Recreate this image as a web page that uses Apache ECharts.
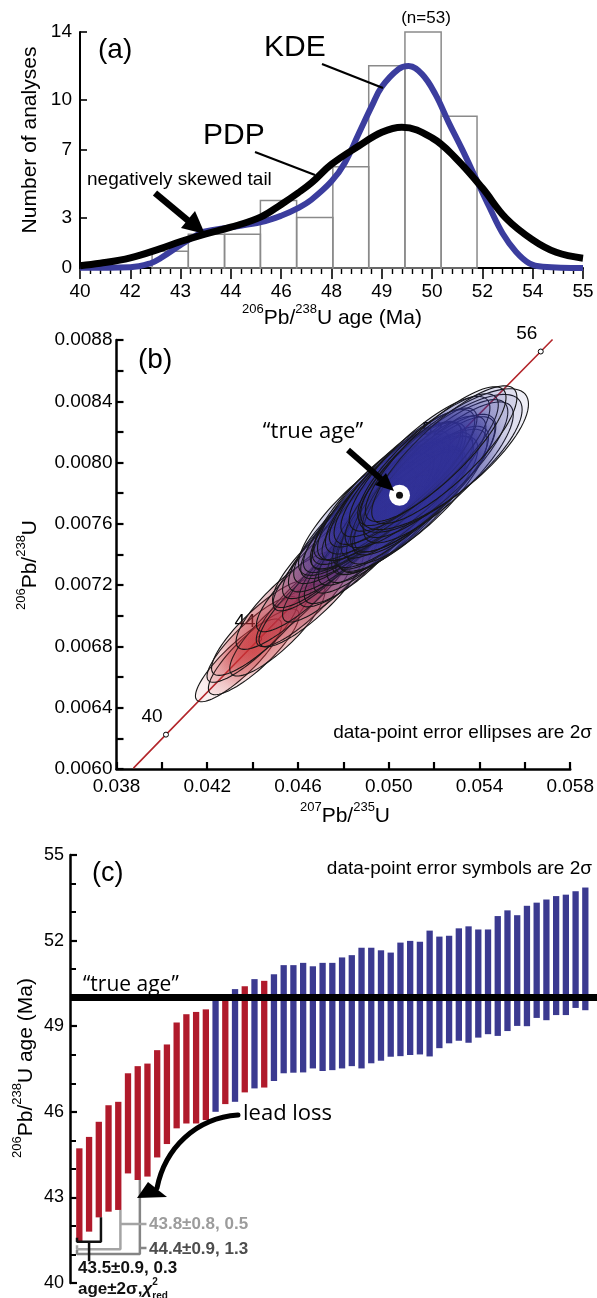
<!DOCTYPE html>
<html>
<head>
<meta charset="utf-8">
<script src="https://cdn.jsdelivr.net/npm/echarts@6/dist/echarts.min.js"></script>
<style>
html,body{margin:0;padding:0;background:#fff}
#chart{width:597px;height:1298px}
</style>
</head>
<body>
<div id="chart"></div>
<script>
// ---------- (a) age histogram with KDE and PDP ----------
const binEdges  = [42.15, 43.23, 44.31, 45.38, 46.46, 47.54, 48.61, 49.69, 50.77, 51.84];
const binCounts = [1, 2, 2, 4, 3, 6, 12, 14, 9];
const kdeAge = [40.0, 41.5, 42.1, 42.4, 43.0, 43.4, 43.7, 44.5, 45.4, 46.0, 46.5, 46.9, 47.5, 47.9, 48.3, 48.7, 49.0, 49.5, 49.8, 50.2, 50.6, 51.0, 51.4, 51.8, 52.2, 52.6, 53.0, 53.4, 53.8, 55.0];
const kdeVal = [0.02, 0.05, 0.28, 0.58, 1.37, 1.86, 2.16, 2.42, 2.72, 3.10, 3.55, 4.05, 5.14, 6.25, 7.92, 9.60, 10.75, 11.80, 11.98, 11.50, 10.30, 8.61, 7.02, 5.34, 3.65, 2.06, 0.97, 0.28, 0.08, 0.0];
const pdpAge = [40.0, 40.6, 41.5, 42.4, 43.0, 43.7, 44.5, 45.4, 46.0, 46.5, 46.9, 47.5, 48.3, 49.0, 49.6, 50.5, 51.2, 52.0, 52.7, 53.5, 54.2, 55.0];
const pdpVal = [0.14, 0.28, 0.60, 1.15, 1.57, 2.00, 2.42, 3.03, 3.77, 4.45, 5.05, 6.15, 7.22, 8.05, 8.35, 7.72, 6.53, 4.74, 2.96, 1.67, 0.93, 0.58];
const ageTickLabels = ['40', '42', '43', '44', '46', '48', '49', '50', '52', '54', '55'];
const countTicks = [0, 3, 7, 10, 14];

// ---------- (b) concordia diagram ----------
const concAge = [38.6, 40, 44, 48, 52, 56, 56.45];
const concX = [0.038747, 0.040180, 0.044286, 0.048408, 0.052546, 0.056701, 0.057221];
const concY = [0.0060058, 0.0062243, 0.0068488, 0.0074738, 0.0080991, 0.0087248, 0.0088031];
const concMarkedAges = [40, 44, 48, 52, 56];
const trueAgeRatio = [0.050475, 0.0077864];
const ratioXLabels = ['0.038', '0.042', '0.046', '0.050', '0.054', '0.058'];
const ratioYLabels = ['0.0060', '0.0064', '0.0068', '0.0072', '0.0076', '0.0080', '0.0084', '0.0088'];
// error ellipse centres (207Pb/235U, 206Pb/238U), 2-sigma half widths and error correlations
const ellX = [0.04338, 0.04405, 0.04399, 0.04509, 0.04439, 0.04626, 0.04557, 0.04658, 0.04637, 0.04742,
  0.04720, 0.04844, 0.04738, 0.04868, 0.04792, 0.04920, 0.04818, 0.04950, 0.04851, 0.04988,
  0.04882, 0.05043, 0.04904, 0.05038, 0.04929, 0.05061, 0.04902, 0.05046, 0.04944, 0.05083,
  0.04953, 0.05063, 0.04986, 0.05124, 0.04970, 0.05080, 0.05006, 0.05140, 0.05031, 0.05158,
  0.05028, 0.05152, 0.05118, 0.05069, 0.05219, 0.05089, 0.05205, 0.05136, 0.05228, 0.05173,
  0.05246, 0.05245, 0.05207];
const ellY = [0.006709, 0.006765, 0.006846, 0.006907, 0.006921, 0.007099, 0.007101, 0.007117, 0.007206, 0.007259,
  0.007362, 0.007398, 0.007404, 0.007420, 0.007472, 0.007498, 0.007526, 0.007559, 0.007590, 0.007587,
  0.007623, 0.007670, 0.007672, 0.007678, 0.007679, 0.007683, 0.007684, 0.007704, 0.007717, 0.007731,
  0.007745, 0.007745, 0.007750, 0.007778, 0.007786, 0.007786, 0.007811, 0.007817, 0.007833, 0.007859,
  0.007859, 0.007865, 0.007875, 0.007906, 0.007936, 0.007936, 0.007961, 0.007992, 0.007995, 0.008019,
  0.008022, 0.008051, 0.008055];
const ellSx = [0.0019, 0.0020, 0.0020, 0.0021, 0.0022, 0.0021, 0.0023, 0.0023, 0.0022, 0.0021,
  0.0023, 0.0024, 0.0025, 0.0024, 0.0026, 0.0025, 0.0026, 0.0026, 0.0027, 0.0026,
  0.0027, 0.0028, 0.0028, 0.0029, 0.0027, 0.0028, 0.0030, 0.0028, 0.0029, 0.0031,
  0.0029, 0.0031, 0.0028, 0.0031, 0.0030, 0.0029, 0.0032, 0.0030, 0.0031, 0.0031,
  0.0029, 0.0032, 0.0031, 0.0031, 0.0033, 0.0030, 0.0032, 0.0031, 0.0036, 0.0031,
  0.0037, 0.0032, 0.0031];
const ellSy = [0.00027, 0.00028, 0.00028, 0.00030, 0.00031, 0.00030, 0.00032, 0.00032, 0.00031, 0.00030,
  0.00033, 0.00034, 0.00035, 0.00034, 0.00036, 0.00035, 0.00037, 0.00036, 0.00038, 0.00037,
  0.00038, 0.00040, 0.00039, 0.00041, 0.00038, 0.00040, 0.00042, 0.00040, 0.00041, 0.00044,
  0.00041, 0.00043, 0.00039, 0.00044, 0.00042, 0.00041, 0.00045, 0.00042, 0.00043, 0.00044,
  0.00041, 0.00045, 0.00043, 0.00044, 0.00046, 0.00042, 0.00045, 0.00044, 0.00045, 0.00043,
  0.00046, 0.00045, 0.00044];
const ellRho = [0.86, 0.85, 0.86, 0.84, 0.85, 0.85, 0.84, 0.86, 0.85, 0.84,
  0.85, 0.84, 0.85, 0.84, 0.84, 0.85, 0.83, 0.84, 0.83, 0.84,
  0.83, 0.83, 0.84, 0.82, 0.83, 0.83, 0.82, 0.83, 0.83, 0.82,
  0.83, 0.82, 0.84, 0.82, 0.83, 0.83, 0.82, 0.83, 0.82, 0.83,
  0.84, 0.82, 0.83, 0.83, 0.82, 0.84, 0.82, 0.83, 0.78, 0.83,
  0.78, 0.83, 0.84];

// ---------- (c) ranked ages with 2-sigma bars ----------
const ageLow  = [41.47, 41.80, 42.30, 42.50, 42.56, 43.84, 43.61, 43.73, 44.40, 44.87,
  45.42, 45.59, 45.59, 45.71, 46.00, 46.27, 46.35, 46.68, 46.82, 46.85,
  47.08, 47.35, 47.37, 47.38, 47.52, 47.43, 47.46, 47.52, 47.60, 47.52,
  47.70, 47.79, 47.93, 47.95, 47.99, 48.01, 47.94, 48.23, 48.40, 48.49,
  48.42, 48.60, 48.72, 48.66, 48.83, 49.01, 49.00, 49.29, 49.21, 49.39,
  49.39, 49.64, 49.56];
const ageHigh = [44.72, 45.12, 45.65, 46.23, 46.35, 47.35, 47.60, 47.69, 48.16, 48.36,
  49.13, 49.42, 49.50, 49.59, 50.00, 50.05, 50.30, 50.40, 50.65, 50.59,
  50.82, 51.14, 51.14, 51.22, 51.10, 51.22, 51.22, 51.41, 51.49, 51.75,
  51.75, 51.66, 51.58, 51.93, 51.99, 51.96, 52.35, 52.14, 52.17, 52.43,
  52.50, 52.39, 52.39, 52.86, 53.06, 52.89, 53.22, 53.33, 53.44, 53.56,
  53.61, 53.73, 53.86];
const leadLoss = [1, 1, 1, 1, 1, 1, 1, 1, 1, 1, 1, 1, 1, 1, 0, 1, 0, 1, 0, 1,
  0, 0, 0, 0, 0, 0, 0, 0, 0, 0, 0, 0, 0, 0, 0, 0, 0, 0, 0, 0,
  0, 0, 0, 0, 0, 0, 0, 0, 0, 0, 0, 0, 0];
const trueAge = 50;
const meanGroups = [
  { last: 2, text: '43.5±0.9, 0.3' },
  { last: 4, text: '43.8±0.8, 0.5' },
  { last: 6, text: '44.4±0.9, 1.3' }
];

// ---------- drawing ----------
const FONT = '"Liberation Sans", Arial, Helvetica, sans-serif';
const HUM = '"Open Sans", "Liberation Sans", sans-serif';
const RED = '#b01a2b', BLUE = '#3b3a90', KDE_BLUE = '#3b3d9e';
const groupColors = ['#111111', '#a4a4a4', '#858585'];
const groupTextColors = ['#111111', '#9c9c9c', '#4d4d4d'];

const chart = echarts.init(document.getElementById('chart'), null, { renderer: 'canvas' });

function axisLineStyle(w) { return { show: true, onZero: false, lineStyle: { color: '#000', width: w } }; }
const labelBase = { color: '#000', fontFamily: FONT, fontSize: 19 };

function rgba(c, a) { return 'rgba(' + c[0] + ',' + c[1] + ',' + c[2] + ',' + a + ')'; }
function ellColor(y) {
  let t = (y - 0.00700) / (0.00765 - 0.00700);
  t = Math.max(0, Math.min(1, t));
  const r = [200, 48, 52], b = [48, 48, 150];
  return [0, 1, 2].map(i => Math.round(r[i] + (b[i] - r[i]) * t));
}

function renderHist(params, api) {
  const p0 = api.coord([api.value(0), api.value(2)]);
  const p1 = api.coord([api.value(1), 0]);
  return { type: 'rect', shape: { x: p0[0], y: p0[1], width: p1[0] - p0[0], height: p1[1] - p0[1] },
    style: { fill: 'rgba(255,255,255,0)', stroke: '#8a8a8a', lineWidth: 1.5 } };
}

function renderEllipse(params, api) {
  const cx = api.value(0), cy = api.value(1), sx = api.value(2), sy = api.value(3), r = api.value(4);
  const k = Math.sqrt(1 - r * r);
  const pts = [];
  for (let j = 0; j < 90; j++) {
    const t = j / 90 * 2 * Math.PI;
    pts.push(api.coord([cx + sx * Math.cos(t), cy + sy * (r * Math.cos(t) + k * Math.sin(t))]));
  }
  const c = ellColor(cy);
  return { type: 'polygon', shape: { points: pts },
    style: { fill: new echarts.graphic.RadialGradient(0.5, 0.5, 0.5, [
      { offset: 0, color: rgba(c, 0.45) }, { offset: 1, color: rgba(c, 0.08) }]),
      stroke: '#161616', lineWidth: 1.1 } };
}

function renderBar(params, api) {
  const i = api.value(0);
  const top = api.coord([i, api.value(2)]);
  const bot = api.coord([i, api.value(1)]);
  const w = 6.3;
  return { type: 'rect', shape: { x: top[0] - w / 2, y: top[1], width: w, height: bot[1] - top[1] },
    style: { fill: api.value(3) ? RED : BLUE } };
}

const concMarkData = concMarkedAges.map(a => {
  const i = concAge.indexOf(a);
  return { value: [concX[i], concY[i]], name: String(a) };
});

// bracket outlines for the weighted means of the youngest analyses
const bracketBase = [41.45, 41.18, 41.02];
const bracketSeries = meanGroups.map((g, k) => ({
  type: 'line', xAxisIndex: 2, yAxisIndex: 2, symbol: 'none', z: 6, silent: true,
  lineStyle: { color: groupColors[k], width: 2.5 },
  data: [[-0.24, bracketBase[k] + 0.14], [-0.24, bracketBase[k]], [g.last + 0.22, bracketBase[k]], [g.last + 0.22, ageLow[g.last]]]
}));
const connectorSeries = [
  { data: [[1.0, bracketBase[0]], [1.0, 40.76]], color: groupColors[0] },
  { data: [[meanGroups[1].last + 0.22, 42.07], [6.9, 42.07]], color: groupColors[1] },
  { data: [[meanGroups[2].last + 0.22, 41.23], [6.9, 41.23]], color: groupColors[2] }
].map(s => ({ type: 'line', xAxisIndex: 2, yAxisIndex: 2, symbol: 'none', z: 6, silent: true,
  lineStyle: { color: s.color, width: 2.5 }, data: s.data }));

function txt(x, y, text, font, opts) {
  opts = opts || {};
  return { type: 'text', x: x, y: y, rotation: opts.rotation || 0, z: 100, silent: true,
    style: { text: text, font: font, fill: opts.fill || '#000',
      align: opts.align || 'left', verticalAlign: 'middle',
      textAlign: opts.align || 'left', textVerticalAlign: 'middle', rich: opts.rich } };
}
function supRich(size, supSize, weight) {
  return {
    n: { fontSize: size, fontFamily: FONT, fontWeight: weight || 'normal', lineHeight: Math.round(size * 1.45), fill: '#000', verticalAlign: 'middle' },
    s: { fontSize: supSize, fontFamily: FONT, fontWeight: weight || 'normal', lineHeight: supSize + 1, fill: '#000', verticalAlign: 'top' }
  };
}

const graphics = [
  // panel (a)
  txt(98, 50, '(a)', '28px ' + FONT),
  txt(264, 48, 'KDE', '30px ' + FONT),
  txt(203, 136, 'PDP', '30px ' + FONT),
  txt(426, 18, '(n=53)', '17px ' + FONT, { align: 'center' }),
  txt(87, 180, 'negatively skewed tail', '19px ' + FONT),
  { type: 'line', z: 100, shape: { x1: 322, y1: 64, x2: 383, y2: 88 }, style: { stroke: '#000', lineWidth: 2.2 } },
  { type: 'line', z: 100, shape: { x1: 255, y1: 152, x2: 315, y2: 175 }, style: { stroke: '#000', lineWidth: 2.2 } },
  { type: 'line', z: 100, shape: { x1: 155, y1: 193, x2: 191, y2: 223 }, style: { stroke: '#000', lineWidth: 6.5 } },
  { type: 'polygon', z: 100, shape: { points: [[205, 234], [181, 228], [195, 211]] }, style: { fill: '#000' } },
  txt(30, 140, 'Number of analyses', '21px ' + FONT, { align: 'center', rotation: Math.PI / 2 }),
  txt(332, 318, '{s|206}{n|Pb/}{s|238}{n|U age (Ma)}', '21px ' + FONT, { align: 'center', rich: supRich(21, 13) }),
  // panel (b)
  txt(138, 360, '(b)', '28px ' + FONT),
  txt(592, 733, 'data-point error ellipses are 2σ', '19px ' + FONT, { align: 'right' }),
  txt(313, 432, '“true age”', '22px ' + HUM, { align: 'center' }),
  { type: 'line', z: 100, shape: { x1: 348, y1: 450, x2: 381, y2: 479 }, style: { stroke: '#000', lineWidth: 6 } },
  { type: 'polygon', z: 100, shape: { points: [[394, 491], [375, 485], [386, 473]] }, style: { fill: '#000' } },
  txt(30, 565, '{s|206}{n|Pb/}{s|238}{n|U}', '21px ' + FONT, { align: 'center', rotation: Math.PI / 2, rich: supRich(21, 13) }),
  txt(345, 816, '{s|207}{n|Pb/}{s|235}{n|U}', '21px ' + FONT, { align: 'center', rich: supRich(21, 13) }),
  // panel (c)
  txt(92, 874, '(c)', '27px ' + FONT),
  txt(592, 869, 'data-point error symbols are 2σ', '19px ' + FONT, { align: 'right' }),
  txt(83, 985, '“true age”', '21px ' + HUM),
  txt(243, 1114, 'lead loss', '22px ' + HUM),
  txt(26, 1068, '{s|206}{n|Pb/}{s|238}{n|U age (Ma)}', '21px ' + FONT, { align: 'center', rotation: Math.PI / 2, rich: supRich(21, 13) }),
  { type: 'bezierCurve', z: 100, shape: { x1: 238, y1: 1115, cpx1: 196, cpy1: 1118, cpx2: 165, cpy2: 1148, x2: 157, y2: 1188 },
    style: { stroke: '#000', lineWidth: 5, fill: null, lineCap: 'round' } },
  { type: 'polygon', z: 100, shape: { points: [[137, 1198], [148, 1182], [167, 1197]] }, style: { fill: '#000' } },
  txt(149, 1224, meanGroups[1].text, 'bold 17px ' + FONT, { fill: groupTextColors[1] }),
  txt(149, 1249, meanGroups[2].text, 'bold 17px ' + FONT, { fill: groupTextColors[2] }),
  txt(78, 1268, meanGroups[0].text, 'bold 17px ' + FONT, { fill: groupTextColors[0] }),
  txt(78, 1289, '{m|age±2σ,}{c|χ}{s|2}', 'bold 17px ' + FONT, { rich: {
    m: { fontSize: 17, fontWeight: 'bold', fontFamily: FONT, lineHeight: 24, fill: '#111' },
    c: { fontSize: 17, fontWeight: 'bold', fontStyle: 'italic', fontFamily: FONT, lineHeight: 24, fill: '#111' },
    s: { fontSize: 10, fontWeight: 'bold', fontFamily: FONT, lineHeight: 11, verticalAlign: 'top', fill: '#111' } } }),
  txt(78, 1289, '{m|age±2σ,}{c|χ}{s|red}', 'bold 17px ' + FONT, { rich: {
    m: { fontSize: 17, fontWeight: 'bold', fontFamily: FONT, lineHeight: 24, fill: 'rgba(0,0,0,0)' },
    c: { fontSize: 17, fontWeight: 'bold', fontStyle: 'italic', fontFamily: FONT, lineHeight: 24, fill: 'rgba(0,0,0,0)' },
    s: { fontSize: 10, fontWeight: 'bold', fontFamily: FONT, lineHeight: 11, verticalAlign: 'bottom', fill: '#111' } } })
];

const option = {
  animation: false,
  backgroundColor: '#fff',
  textStyle: { fontFamily: FONT },
  grid: [
    { left: 80, top: 32, width: 503, height: 236 },
    { left: 116.5, top: 340, width: 454, height: 429 },
    { left: 70, top: 855, width: 527, height: 428 }
  ],
  xAxis: [
    { gridIndex: 0, type: 'value', min: 40, max: 55, interval: 1.5,
      axisLine: axisLineStyle(2),
      axisTick: { show: true, inside: false, length: 11, lineStyle: { color: '#000', width: 1.6 } },
      minorTick: { show: true, splitNumber: 5, length: 6, lineStyle: { color: '#000', width: 1.4 } },
      axisLabel: Object.assign({ margin: 14, formatter: v => ageTickLabels[Math.round((v - 40) / 1.5)] || '' }, labelBase),
      splitLine: { show: false }, minorSplitLine: { show: false } },
    { gridIndex: 1, type: 'value', min: 0.038, max: 0.058, interval: 0.002,
      axisLine: axisLineStyle(2.5),
      axisTick: { show: true, inside: true, length: 7, lineStyle: { color: '#000', width: 2.2 } },
      axisLabel: Object.assign({ margin: 8, formatter: v => {
        const i = Math.round((v - 0.038) / 0.002);
        return i % 2 ? '' : (ratioXLabels[i / 2] || '');
      } }, labelBase),
      splitLine: { show: false } },
    { gridIndex: 2, type: 'value', min: -0.96, max: 53.2, show: false, splitLine: { show: false } }
  ],
  yAxis: [
    { gridIndex: 0, type: 'value', min: 0, max: 14,
      axisLine: axisLineStyle(2),
      axisTick: { show: true, inside: true, length: 7, customValues: countTicks, lineStyle: { color: '#000', width: 1.6 } },
      axisLabel: Object.assign({ margin: 8, customValues: countTicks }, labelBase),
      splitLine: { show: false } },
    { gridIndex: 1, type: 'value', min: 0.006, max: 0.0088, interval: 0.0002,
      axisLine: axisLineStyle(2.5),
      axisTick: { show: true, inside: true, length: 7, lineStyle: { color: '#000', width: 2.2 } },
      axisLabel: Object.assign({ margin: 4, formatter: v => {
        const i = Math.round((v - 0.006) / 0.0002);
        return i % 2 ? '' : (ratioYLabels[i / 2] || '');
      } }, labelBase),
      splitLine: { show: false } },
    { gridIndex: 2, type: 'value', min: 40, max: 55, interval: 3,
      axisLine: axisLineStyle(2.5),
      axisTick: { show: true, inside: true, length: 7, lineStyle: { color: '#000', width: 2.2 } },
      minorTick: { show: true, splitNumber: 3, length: 6, lineStyle: { color: '#000', width: 2 } },
      axisLabel: Object.assign({ margin: 6 }, labelBase, { fontSize: 18 }),
      splitLine: { show: false }, minorSplitLine: { show: false } }
  ],
  series: [
    { type: 'custom', xAxisIndex: 0, yAxisIndex: 0, z: 1, silent: true, renderItem: renderHist,
      encode: { x: [0, 1], y: 2 },
      data: binCounts.map((c, i) => [binEdges[i], binEdges[i + 1], c]) },
    { type: 'line', xAxisIndex: 0, yAxisIndex: 0, z: 2, symbol: 'none', smooth: 0.4, silent: true,
      lineStyle: { color: KDE_BLUE, width: 6 },
      data: kdeAge.map((a, i) => [a, kdeVal[i]]) },
    { type: 'line', xAxisIndex: 0, yAxisIndex: 0, z: 3, symbol: 'none', smooth: 0.4, silent: true,
      lineStyle: { color: '#000', width: 7 },
      data: pdpAge.map((a, i) => [a, pdpVal[i]]) },
    { type: 'line', xAxisIndex: 1, yAxisIndex: 1, z: 1, symbol: 'none', silent: true, clip: false,
      lineStyle: { color: '#b3262b', width: 1.6 },
      data: concAge.map((a, i) => [concX[i], concY[i]]) },
    { type: 'scatter', xAxisIndex: 1, yAxisIndex: 1, z: 1, silent: true, symbolSize: 5,
      itemStyle: { color: '#fff', borderColor: '#000', borderWidth: 1, opacity: 1 },
      label: { show: true, position: 'top', offset: [-14, 0], formatter: p => p.name, fontSize: 19, color: '#000', fontFamily: FONT },
      data: concMarkData },
    { type: 'custom', xAxisIndex: 1, yAxisIndex: 1, z: 2, silent: true, renderItem: renderEllipse,
      encode: { x: 0, y: 1 },
      data: ellX.map((x, i) => [x, ellY[i], ellSx[i], ellSy[i], ellRho[i]]) },
    { type: 'scatter', xAxisIndex: 1, yAxisIndex: 1, z: 10, silent: true, symbolSize: 21,
      itemStyle: { color: '#fff', opacity: 1 }, data: [trueAgeRatio] },
    { type: 'scatter', xAxisIndex: 1, yAxisIndex: 1, z: 11, silent: true, symbolSize: 7,
      itemStyle: { color: '#111', opacity: 1 }, data: [trueAgeRatio] },
    { type: 'custom', xAxisIndex: 2, yAxisIndex: 2, z: 3, silent: true, renderItem: renderBar,
      encode: { x: 0, y: [1, 2] },
      data: ageLow.map((lo, i) => [i, lo, ageHigh[i], leadLoss[i]]),
      markLine: { silent: true, symbol: 'none', label: { show: false },
        lineStyle: { color: '#000', width: 7, type: 'solid' }, data: [{ yAxis: trueAge }] } }
  ].concat(bracketSeries, connectorSeries),
  graphic: graphics
};
chart.setOption(option);
</script>
</body>
</html>
